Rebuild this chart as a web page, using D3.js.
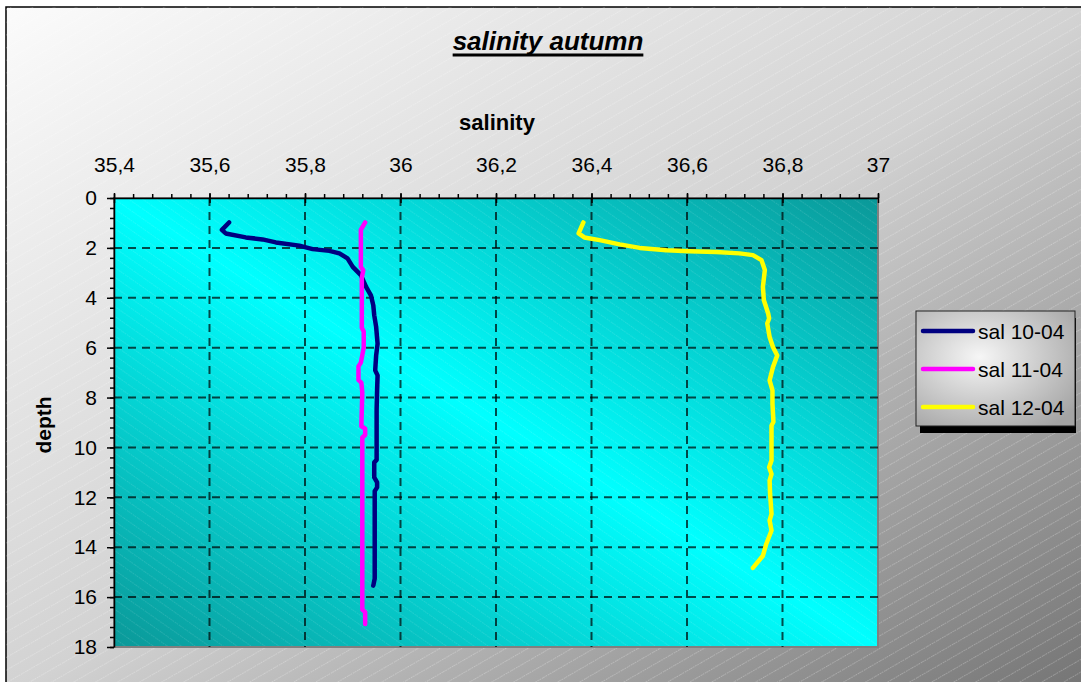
<!DOCTYPE html>
<html>
<head>
<meta charset="utf-8">
<script src="https://cdn.jsdelivr.net/npm/d3@7"></script>
<style>
  body { margin: 0; background: #fff; }
  text { font-family: "Liberation Sans", Arial, sans-serif; }
</style>
</head>
<body>
<div id="chart"></div>
<script>
// tick values
var salTicks = [35.4, 35.6, 35.8, 36, 36.2, 36.4, 36.6, 36.8, 37];
var depthTicks = [0, 2, 4, 6, 8, 10, 12, 14, 16, 18];

// sal 10-04
var depth10 = [0.98, 1.28, 1.42, 1.58, 1.66, 1.78, 1.91, 2.05, 2.12, 2.22, 2.42, 2.76, 3.09, 3.56, 3.90, 4.30, 4.70, 5.17, 5.84, 6.31, 6.91, 7.11, 7.7, 8.5, 9.5, 10.5, 10.6, 11.2, 11.4, 11.6, 11.75, 12.5, 13.5, 14.5, 15.26, 15.54];
var sal10 = [35.641, 35.626, 35.634, 35.676, 35.711, 35.739, 35.788, 35.816, 35.851, 35.872, 35.889, 35.900, 35.917, 35.928, 35.938, 35.943, 35.945, 35.949, 35.952, 35.949, 35.947, 35.952, 35.951, 35.950, 35.950, 35.950, 35.945, 35.945, 35.951, 35.951, 35.946, 35.946, 35.946, 35.946, 35.946, 35.943];

// sal 11-04
var depth11 = [0.98, 1.28, 2.76, 2.9, 3.2, 5.2, 5.35, 6.0, 6.6, 6.75, 7.3, 7.4, 7.8, 9.15, 9.25, 9.5, 9.6, 12, 14, 16.5, 16.6, 17.08];
var sal11 = [35.926, 35.917, 35.917, 35.922, 35.919, 35.919, 35.923, 35.923, 35.917, 35.912, 35.912, 35.918, 35.920, 35.918, 35.926, 35.926, 35.920, 35.920, 35.920, 35.920, 35.926, 35.926];

// sal 12-04
var depth12 = [0.98, 1.42, 1.58, 1.69, 1.86, 2.00, 2.09, 2.13, 2.16, 2.22, 2.29, 2.49, 2.89, 3.56, 4.10, 4.63, 4.83, 5.03, 5.57, 5.97, 6.31, 6.78, 7.31, 7.71, 8.24, 8.98, 9.12, 10.52, 10.79, 11.06, 11.33, 11.86, 12.66, 12.93, 13.33, 13.87, 14.34, 14.83];
var sal12 = [36.383, 36.373, 36.385, 36.417, 36.459, 36.501, 36.557, 36.605, 36.661, 36.710, 36.738, 36.756, 36.763, 36.759, 36.761, 36.770, 36.772, 36.768, 36.773, 36.780, 36.789, 36.780, 36.773, 36.779, 36.779, 36.781, 36.777, 36.777, 36.772, 36.777, 36.773, 36.774, 36.777, 36.773, 36.777, 36.766, 36.759, 36.738];

var seriesNames = ["sal 10-04", "sal 11-04", "sal 12-04"];
var seriesColors = ["#000080", "#ff00ff", "#ffff00"];

var series = [
  {name: seriesNames[0], color: seriesColors[0], values: depth10.map(function(d, i){ return {d: d, s: sal10[i]}; })},
  {name: seriesNames[1], color: seriesColors[1], values: depth11.map(function(d, i){ return {d: d, s: sal11[i]}; })},
  {name: seriesNames[2], color: seriesColors[2], values: depth12.map(function(d, i){ return {d: d, s: sal12[i]}; })}
];

var svgWidth = 1081, svgHeight = 682;
var plot = {left: 114, top: 198, width: 764, height: 449};

var svg = d3.select("#chart").append("svg")
  .attr("width", svgWidth)
  .attr("height", svgHeight);

var defs = svg.append("defs");

// outer background gradient
var bgGrad = defs.append("linearGradient").attr("id", "bgGrad")
  .attr("x1", 0).attr("y1", 0).attr("x2", 1).attr("y2", 1);
bgGrad.append("stop").attr("offset", 0).attr("stop-color", "#fbfbfb");
bgGrad.append("stop").attr("offset", 0.5).attr("stop-color", "#d2d2d2");
bgGrad.append("stop").attr("offset", 1).attr("stop-color", "#727272");

// plot area gradient, dark corners top-right / bottom-left
var plotGrad = defs.append("linearGradient").attr("id", "plotGrad")
  .attr("x1", 1).attr("y1", 0).attr("x2", 0).attr("y2", 1);
plotGrad.append("stop").attr("offset", 0).attr("stop-color", "#0b9898");
plotGrad.append("stop").attr("offset", 0.5).attr("stop-color", "#00ffff");
plotGrad.append("stop").attr("offset", 1).attr("stop-color", "#0b9898");

// legend gradient
var legGrad = defs.append("radialGradient").attr("id", "legGrad")
  .attr("cx", 0.4).attr("cy", 0.4).attr("r", 0.75);
legGrad.append("stop").attr("offset", 0).attr("stop-color", "#f6f6f6");
legGrad.append("stop").attr("offset", 1).attr("stop-color", "#a4a4a4");

// faint hatching
var hatchOut = defs.append("pattern").attr("id", "hatchOut")
  .attr("patternUnits", "userSpaceOnUse")
  .attr("width", 12).attr("height", 11)
  .attr("patternTransform", "rotate(-30)");
hatchOut.append("line").attr("x1", 0).attr("y1", 0.5).attr("x2", 12).attr("y2", 0.5)
  .attr("stroke", "#fff").attr("stroke-opacity", 0.28).attr("stroke-dasharray", "1.5,1");

var hatchIn = defs.append("pattern").attr("id", "hatchIn")
  .attr("patternUnits", "userSpaceOnUse")
  .attr("width", 12).attr("height", 8)
  .attr("patternTransform", "rotate(35)");
hatchIn.append("line").attr("x1", 0).attr("y1", 0.5).attr("x2", 12).attr("y2", 0.5)
  .attr("stroke", "#fff").attr("stroke-opacity", 0.12).attr("stroke-dasharray", "1.5,1");

// chart area with frame
svg.append("rect").attr("x", 6).attr("y", 7)
  .attr("width", svgWidth + 10).attr("height", svgHeight + 10)
  .attr("fill", "url(#bgGrad)").attr("stroke", "#000").attr("stroke-width", 1.5);
svg.append("rect").attr("x", 6).attr("y", 7)
  .attr("width", svgWidth).attr("height", svgHeight)
  .attr("fill", "url(#hatchOut)");

// title
var title = svg.append("text")
  .attr("x", 548).attr("y", 50)
  .attr("text-anchor", "middle")
  .attr("font-size", "26px")
  .attr("font-weight", "bold")
  .attr("font-style", "italic")
  .attr("fill", "#000")
  .text("salinity autumn");
var tLen = title.node().getComputedTextLength();
svg.append("line")
  .attr("x1", 548 - tLen / 2).attr("x2", 548 + tLen / 2)
  .attr("y1", 55).attr("y2", 55)
  .attr("stroke", "#000").attr("stroke-width", 3);

var chartGroup = svg.append("g")
  .attr("transform", `translate(${plot.left}, ${plot.top})`);

var xScale = d3.scaleLinear().domain([35.4, 37]).range([0, plot.width]);
var yScale = d3.scaleLinear().domain([0, 18]).range([0, plot.height]);

// plot background
chartGroup.append("rect")
  .attr("width", plot.width).attr("height", plot.height)
  .attr("fill", "url(#plotGrad)");
chartGroup.append("rect")
  .attr("width", plot.width).attr("height", plot.height)
  .attr("fill", "url(#hatchIn)")
  .attr("stroke", "#808080").attr("stroke-width", 2);

// dashed gridlines
chartGroup.selectAll(".vgrid")
  .data(salTicks.slice(1, -1))
  .enter().append("line")
  .attr("x1", d => xScale(d)).attr("x2", d => xScale(d))
  .attr("y1", 0).attr("y2", plot.height)
  .attr("stroke", "#000").attr("stroke-opacity", 0.7)
  .attr("stroke-width", 2).attr("stroke-dasharray", "8,6");
chartGroup.selectAll(".hgrid")
  .data(depthTicks.slice(1, -1))
  .enter().append("line")
  .attr("x1", 0).attr("x2", plot.width)
  .attr("y1", d => yScale(d)).attr("y2", d => yScale(d))
  .attr("stroke", "#000").attr("stroke-opacity", 0.7)
  .attr("stroke-width", 2).attr("stroke-dasharray", "8,6");

// lines
var line = d3.line()
  .x(d => xScale(d.s))
  .y(d => yScale(d.d));

chartGroup.selectAll(".series")
  .data(series)
  .enter().append("path")
  .attr("d", d => line(d.values))
  .attr("fill", "none")
  .attr("stroke", d => d.color)
  .attr("stroke-width", 4.5)
  .attr("stroke-linejoin", "round")
  .attr("stroke-linecap", "round");

var fmt = d => String(+d.toFixed(1)).replace(".", ",");

// minor ticks
var minorX = d3.range(0, 41).map(i => 35.4 + i * 0.04);
chartGroup.append("g")
  .call(d3.axisTop(xScale).tickValues(minorX).tickSize(4).tickFormat(""))
  .call(g => g.select(".domain").remove())
  .selectAll("line").attr("stroke", "#000").attr("stroke-width", 1.5);
var minorY = d3.range(0, 46).map(i => i * 0.4);
chartGroup.append("g")
  .call(d3.axisLeft(yScale).tickValues(minorY).tickSize(4).tickFormat(""))
  .call(g => g.select(".domain").remove())
  .selectAll("line").attr("stroke", "#000").attr("stroke-width", 1.5);

// x axis on top
var topAxis = chartGroup.append("g")
  .call(d3.axisTop(xScale).tickValues(salTicks).tickSize(5).tickSizeOuter(0).tickPadding(21).tickFormat(fmt));
topAxis.selectAll(".tick line").attr("y1", 5).attr("stroke", "#000").attr("stroke-width", 1.5);
topAxis.select(".domain").attr("stroke", "#000").attr("stroke-width", 1.5);
topAxis.selectAll("text")
  .attr("font-family", "Liberation Sans, Arial, sans-serif")
  .attr("font-size", "21px").attr("fill", "#000");

// y axis on left
var leftAxis = chartGroup.append("g")
  .call(d3.axisLeft(yScale).tickValues(depthTicks).tickSize(7).tickSizeOuter(0).tickPadding(10).tickFormat(fmt));
leftAxis.selectAll(".tick line").attr("stroke", "#000").attr("stroke-width", 1.5);
leftAxis.select(".domain").attr("stroke", "#000").attr("stroke-width", 1.5);
leftAxis.selectAll("text")
  .attr("font-family", "Liberation Sans, Arial, sans-serif")
  .attr("font-size", "21px").attr("fill", "#000");

// axis titles
svg.append("text")
  .attr("x", 497).attr("y", 130)
  .attr("text-anchor", "middle")
  .attr("font-size", "22px").attr("font-weight", "bold")
  .text("salinity");
svg.append("text")
  .attr("transform", "translate(51, 425) rotate(-90)")
  .attr("text-anchor", "middle")
  .attr("font-size", "21px").attr("font-weight", "bold")
  .text("depth");

// legend
var legend = svg.append("g").attr("transform", "translate(916, 311)");
legend.append("rect").attr("x", 4).attr("y", 7)
  .attr("width", 156).attr("height", 115).attr("fill", "#000");
legend.append("rect")
  .attr("width", 159).attr("height", 115)
  .attr("fill", "url(#legGrad)").attr("stroke", "#222").attr("stroke-width", 1);
var items = legend.selectAll(".item")
  .data(series)
  .enter().append("g")
  .attr("transform", (d, i) => `translate(0, ${20 + i * 38})`);
items.append("line")
  .attr("x1", 7).attr("x2", 57).attr("y1", 0).attr("y2", 0)
  .attr("stroke", d => d.color).attr("stroke-width", 4.5)
  .attr("stroke-linecap", "round");
items.append("text")
  .attr("x", 62).attr("y", 7.5)
  .attr("font-size", "21px").attr("fill", "#000")
  .text(d => d.name);
</script>
</body>
</html>
